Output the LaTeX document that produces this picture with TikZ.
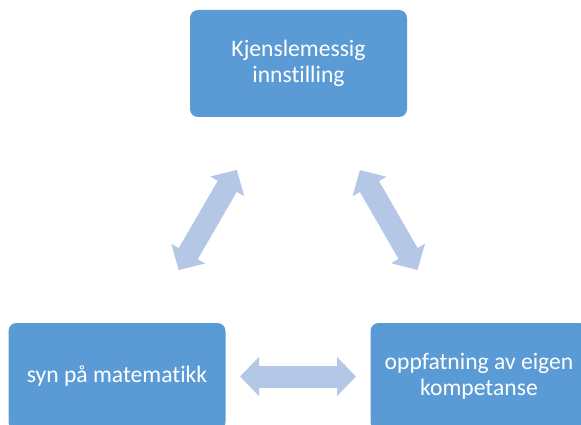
\documentclass[tikz,border=0pt]{standalone}
\usepackage{fontspec}
\setmainfont{Carlito}[Ligatures=NoCommon]
\usetikzlibrary{arrows.meta}

\definecolor{boxblue}{HTML}{5B9BD5}
\definecolor{arrowblue}{HTML}{B4C7E7}

\tikzset{
  feltboks/.style={fill=boxblue, rounded corners=8pt, minimum width=217pt, minimum height=107pt,
     text=white, align=center, font=\fontsize{23.6}{26}\selectfont, inner sep=0pt},
  dobbelpil/.style={draw=arrowblue, line width=22pt,
     {Triangle[length=19pt,width=38pt]}-{Triangle[length=19pt,width=38pt]},
     shorten <=123pt, shorten >=123pt}
}

\begin{document}
\begin{tikzpicture}[x=1pt,y=-1pt]

\useasboundingbox (0,0) rectangle (581,425);
\clip (0,0) rectangle (581,425);

% dei tre boksane
\node[feltboks] (kjensle) at (298.5,63.5) {Kjenslemessig\\innstilling};
\node[feltboks] (syn) at (117,376.5) {syn på matematikk};
\node[feltboks] (kompetanse) at (479,376.5) {oppfatning av eigen\\kompetanse};

% piler mellom boksane
 \draw[dobbelpil] (kjensle.center) -- (syn.center);
 \draw[dobbelpil] (kjensle.center) -- (kompetanse.center);
 \draw[dobbelpil] (syn.center) -- (kompetanse.center);

\end{tikzpicture}
\end{document}
